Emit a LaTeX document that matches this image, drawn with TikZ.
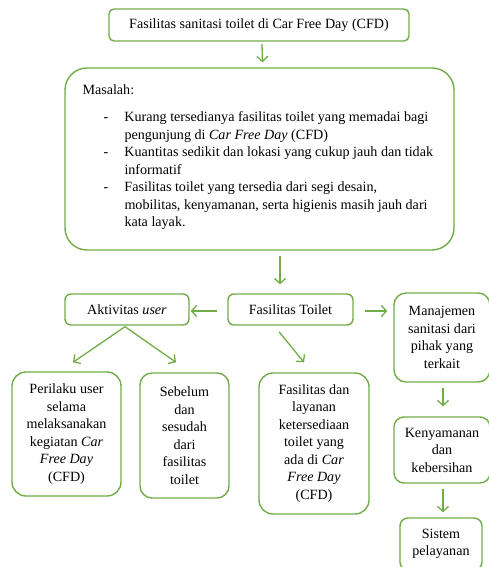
\documentclass[tikz,border=0pt]{standalone}
\usepackage{fontspec}
\setmainfont{Liberation Serif}
\usetikzlibrary{arrows.meta}
\definecolor{gr}{RGB}{112,173,71}
\newcommand\fs{\fontsize{14.1}{17.5}\selectfont}
\begin{document}
\begin{tikzpicture}[x=1pt,y=-1pt,
  box/.style={draw=gr, line width=1.4pt, align=center, inner sep=2pt, font=\fs, text=black},
  arr/.style={draw=gr, line width=1.3pt, -{Straight Barb[length=5pt,width=11pt]}}]
\useasboundingbox (0,0) rectangle (489,567);
\clip (0,0) rectangle (489,567);
\fill[white] (0,0) rectangle (489,567);

\node[box, rounded corners=5pt, minimum width=300pt, minimum height=32pt] (top) at (259,25)
  {Fasilitas sanitasi toilet di Car Free Day (CFD)};

\node[box, rounded corners=22pt, minimum width=389pt, minimum height=182pt] (masalah) at (259.5,159) {};
\node[anchor=north west, inner sep=0pt, font=\fs, align=left] (mtext) at ([xshift=18pt,yshift=-14.75pt]masalah.north west)
{\begin{tabular}{@{}p{21pt}@{}p{21pt}@{}l@{}}
\multicolumn{3}{@{}l@{}}{Masalah:}\\[9.5pt]
&-&Kurang tersedianya fasilitas toilet yang memadai bagi\\
&&pengunjung di \textit{Car Free Day} (CFD)\\
&-&Kuantitas sedikit dan lokasi yang cukup jauh dan tidak\\
&&informatif\\
&-&Fasilitas toilet yang tersedia dari segi desain,\\
&&mobilitas, kenyamanan, serta higienis masih jauh dari\\
&&kata layak.
\end{tabular}};

\node[box, rounded corners=6pt, minimum width=124pt, minimum height=31pt] (akt) at (127,309.5) {Aktivitas \textit{user}};
\node[box, rounded corners=6pt, minimum width=125pt, minimum height=31pt] (ft) at (290.5,309.5) {Fasilitas Toilet};
\node[box, rounded corners=12pt, minimum width=96pt, minimum height=89pt] (man) at (442,337.5) {Manajemen\\sanitasi dari\\pihak yang\\terkait};

\node[box, rounded corners=14pt, minimum width=109pt, minimum height=124pt] (peri) at (66.5,434) {Perilaku user\\selama\\melaksanakan\\kegiatan \textit{Car}\\\textit{Free Day}\\(CFD)};
\node[box, rounded corners=12pt, minimum width=89pt, minimum height=125pt] (seb) at (184.5,435.5) {Sebelum\\dan\\sesudah\\dari\\fasilitas\\toilet};
\node[box, rounded corners=14pt, minimum width=110pt, minimum height=141pt] (fl) at (314,443.5) {Fasilitas dan\\layanan\\ketersediaan\\toilet yang\\ada di \textit{Car}\\\textit{Free Day}\\(CFD)};
\node[box, rounded corners=10pt, minimum width=96pt, minimum height=66pt] (ken) at (442,450) {Kenyamanan\\dan\\kebersihan};
\node[box, rounded corners=8pt, minimum width=82pt, minimum height=52pt] (sis) at (441,544) {Sistem\\pelayanan};

\draw[arr] ([xshift=3pt,yshift=-2pt]top.south) -- ([xshift=3pt,yshift=5pt]masalah.north);
\draw[arr] ([xshift=20.5pt,yshift=-5pt]masalah.south) -- ([xshift=-10.5pt,yshift=9pt]ft.north);
\draw[arr] ([xshift=-10pt,yshift=-1.5pt]ft.west) -- ([xshift=1pt,yshift=-1.5pt]akt.east);
\draw[arr] ([xshift=11pt,yshift=-1.5pt]ft.east) -- ([xshift=-6pt,yshift=-1.5pt]ft.east -| man.west);
\draw[arr] ([xshift=-2pt,yshift=-1pt]akt.south) -- ([xshift=6.5pt,yshift=9pt]peri.north);
\draw[arr] ([xshift=-2pt,yshift=-1pt]akt.south) -- ([xshift=-8.5pt,yshift=10pt]seb.north);
\draw[arr] ([xshift=-11.5pt,yshift=-6pt]ft.south) -- ([xshift=-10pt,yshift=10pt]fl.north);
\draw[arr] ([xshift=1pt,yshift=-5pt]man.south) -- ([xshift=1pt,yshift=10pt]ken.north);
\draw[arr] ([xshift=1pt,yshift=-5pt]ken.south) -- ([xshift=2pt,yshift=5pt]sis.north);
\end{tikzpicture}
\end{document}
